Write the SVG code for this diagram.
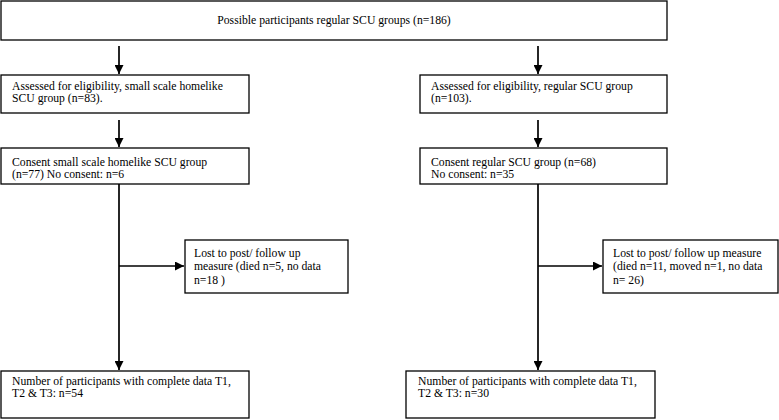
<svg xmlns="http://www.w3.org/2000/svg" width="779" height="420" viewBox="0 0 779 420">
<defs>
<marker id="ah" viewBox="0 0 10 10" refX="10" refY="5" markerWidth="9" markerHeight="9" markerUnits="userSpaceOnUse" orient="auto">
<path d="M0,0 L10,5 L0,10 Z" fill="#000"/>
</marker>
<style>
.box{fill:#fff;stroke:#000;stroke-width:1.3}
.t{font-family:"Liberation Serif","Times New Roman",serif;font-size:11.7px;fill:#000}
.c{fill:none;stroke:#000;stroke-width:1.7}
</style>
</defs>
<rect width="779" height="420" fill="#fff"/>
<g id="connectors">
<line class="c" x1="119" y1="46" x2="119" y2="74" marker-end="url(#ah)"/>
<line class="c" x1="538" y1="46" x2="538" y2="74" marker-end="url(#ah)"/>
<line class="c" x1="119" y1="120" x2="119" y2="147" marker-end="url(#ah)"/>
<line class="c" x1="538" y1="120" x2="538" y2="147" marker-end="url(#ah)"/>
<line class="c" x1="119" y1="184" x2="119" y2="370" marker-end="url(#ah)"/>
<line class="c" x1="538" y1="184" x2="538" y2="370" marker-end="url(#ah)"/>
<line class="c" x1="119" y1="266" x2="184" y2="266" marker-end="url(#ah)"/>
<line class="c" x1="538" y1="266" x2="602" y2="266" marker-end="url(#ah)"/>
</g>
<g id="n_top">
<rect class="box" x="1" y="1" width="666" height="39"/>
<text class="t" x="334" y="24" text-anchor="middle">Possible participants regular SCU groups (n=186)</text>
</g>
<g id="n_assess_left">
<rect class="box" x="1" y="75" width="248" height="38"/>
<text class="t" x="12" y="90">Assessed for eligibility, small scale homelike</text>
<text class="t" x="12" y="102">SCU group (n=83).</text>
</g>
<g id="n_assess_right">
<rect class="box" x="420" y="75" width="247" height="38"/>
<text class="t" x="431" y="90">Assessed for eligibility, regular SCU group</text>
<text class="t" x="431" y="102">(n=103).</text>
</g>
<g id="n_consent_left">
<rect class="box" x="1" y="148" width="248" height="36"/>
<text class="t" x="12" y="166">Consent small scale homelike SCU group</text>
<text class="t" x="12" y="178">(n=77) No consent: n=6</text>
</g>
<g id="n_consent_right">
<rect class="box" x="420" y="148" width="247" height="36"/>
<text class="t" x="431" y="166">Consent regular SCU group (n=68)</text>
<text class="t" x="431" y="178">No consent: n=35</text>
</g>
<g id="n_lost_left">
<rect class="box" x="185" y="240" width="163" height="53"/>
<text class="t" x="194" y="257">Lost to post/ follow up</text>
<text class="t" x="194" y="270">measure (died n=5, no data</text>
<text class="t" x="194" y="284">n=18 )</text>
</g>
<g id="n_lost_right">
<rect class="box" x="603" y="240" width="175" height="53"/>
<text class="t" x="613" y="257">Lost to post/ follow up measure</text>
<text class="t" x="613" y="270">(died n=11, moved n=1, no data</text>
<text class="t" x="613" y="284">n= 26)</text>
</g>
<g id="n_final_left">
<rect class="box" x="1" y="371" width="248" height="47"/>
<text class="t" x="12" y="385">Number of participants with complete data T1,</text>
<text class="t" x="12" y="397">T2 &amp; T3: n=54</text>
</g>
<g id="n_final_right">
<rect class="box" x="406" y="371" width="249" height="47"/>
<text class="t" x="418" y="385">Number of participants with complete data T1,</text>
<text class="t" x="418" y="397">T2 &amp; T3: n=30</text>
</g>
</svg>
